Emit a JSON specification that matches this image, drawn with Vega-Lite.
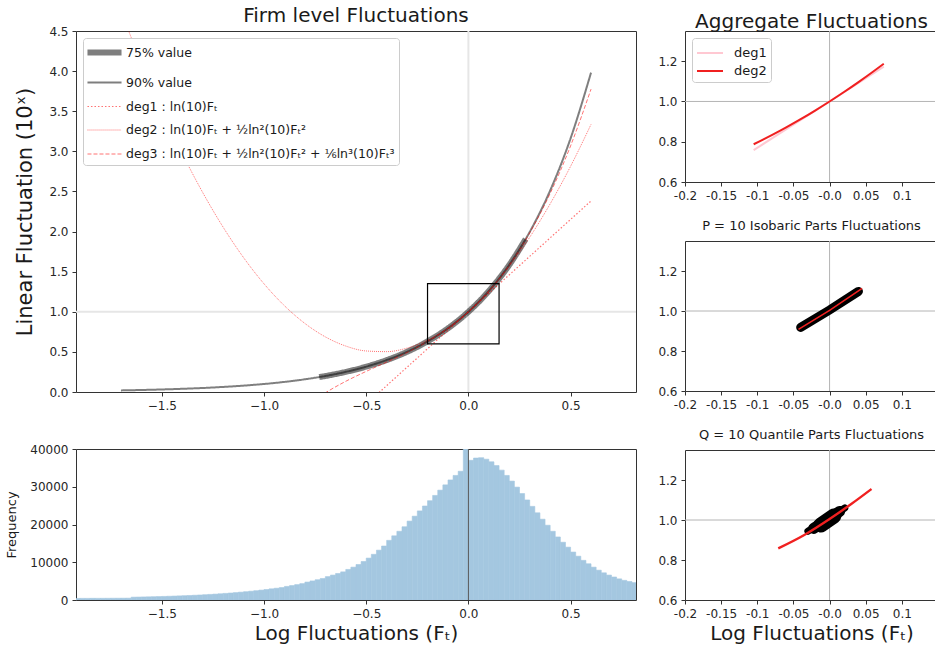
{
  "$schema": "https://vega.github.io/schema/vega-lite/v6.json",
  "padding": {"left": 5, "top": 5, "right": 0, "bottom": 5},
  "background": "white",
  "config": {
    "font": "DejaVu Sans",
    "view": {"stroke": "#333333", "strokeWidth": 1},
    "axis": {"domain": false, "grid": false, "ticks": true, "tickColor": "#333333", "tickSize": 4, "tickWidth": 1, "labelPadding": 4, "labelFontSize": 12, "labelColor": "#262626", "labelFont": "DejaVu Sans", "titleFont": "DejaVu Sans", "titleFontWeight": "normal", "titleColor": "#1a1a1a", "labelFlush": false, "labelOverlap": false},
    "title": {"font": "DejaVu Sans", "fontWeight": "normal", "color": "#1a1a1a"},
    "legend": {"labelFont": "DejaVu Sans", "labelColor": "#1a1a1a"}
  },
  "resolve": {
    "scale": {"color": "independent", "strokeDash": "independent", "strokeWidth": "independent", "opacity": "independent"},
    "legend": {"color": "independent", "strokeDash": "independent", "strokeWidth": "independent", "opacity": "independent"}
  },
  "spacing": 19,
  "hconcat": [
    {
      "spacing": 57,
      "bounds": "flush",
      "vconcat": [
        {
          "width": 560,
          "height": 361,
          "title": {"text": "Firm level Fluctuations", "fontSize": 20, "offset": -1},
          "layer": [
            {
              "data": {"values": [{}]},
              "mark": {"type": "rule", "color": "#e6e6e6", "strokeWidth": 2},
              "encoding": {"y": {"datum": 1, "type": "quantitative", "scale": {"domain": [0, 4.5], "nice": false, "zero": false}}}
            },
            {
              "data": {"values": [{}]},
              "mark": {"type": "rule", "color": "#e6e6e6", "strokeWidth": 2},
              "encoding": {"x": {"datum": 0, "type": "quantitative", "scale": {"domain": [-1.92, 0.82], "nice": false, "zero": false}}}
            },
            {
              "data": {"values": [
                {"s": "a", "x": -0.73, "y": 0.1862}, {"s": "a", "x": -0.7, "y": 0.1995}, {"s": "a", "x": -0.6, "y": 0.2512}, {"s": "a", "x": -0.5, "y": 0.3162}, {"s": "a", "x": -0.4, "y": 0.3981}, {"s": "a", "x": -0.3, "y": 0.5012}, {"s": "a", "x": -0.2, "y": 0.631}, {"s": "a", "x": -0.1, "y": 0.7943}, {"s": "a", "x": 0, "y": 1}, {"s": "a", "x": 0.1, "y": 1.2589}, {"s": "a", "x": 0.2, "y": 1.5849}, {"s": "a", "x": 0.28, "y": 1.9055},
                {"s": "b", "x": -1.7, "y": 0.02}, {"s": "b", "x": -1.6, "y": 0.0251}, {"s": "b", "x": -1.5, "y": 0.0316}, {"s": "b", "x": -1.4, "y": 0.0398}, {"s": "b", "x": -1.3, "y": 0.0501}, {"s": "b", "x": -1.2, "y": 0.0631}, {"s": "b", "x": -1.1, "y": 0.0794}, {"s": "b", "x": -1.0, "y": 0.1}, {"s": "b", "x": -0.9, "y": 0.1259}, {"s": "b", "x": -0.8, "y": 0.1585}, {"s": "b", "x": -0.7, "y": 0.1995}, {"s": "b", "x": -0.6, "y": 0.2512}, {"s": "b", "x": -0.5, "y": 0.3162}, {"s": "b", "x": -0.4, "y": 0.3981}, {"s": "b", "x": -0.3, "y": 0.5012}, {"s": "b", "x": -0.2, "y": 0.631}, {"s": "b", "x": -0.1, "y": 0.7943}, {"s": "b", "x": 0, "y": 1}, {"s": "b", "x": 0.1, "y": 1.2589}, {"s": "b", "x": 0.2, "y": 1.5849}, {"s": "b", "x": 0.3, "y": 1.9953}, {"s": "b", "x": 0.4, "y": 2.5119}, {"s": "b", "x": 0.5, "y": 3.1623}, {"s": "b", "x": 0.6, "y": 3.9811},
                {"s": "c", "x": -0.45, "y": -0.036}, {"s": "c", "x": 0.6, "y": 2.3816},
                {"s": "d", "x": -1.7, "y": 4.7469}, {"s": "d", "x": -1.6, "y": 4.1023}, {"s": "d", "x": -1.5, "y": 3.5108}, {"s": "d", "x": -1.4, "y": 2.9722}, {"s": "d", "x": -1.3, "y": 2.4867}, {"s": "d", "x": -1.2, "y": 2.0543}, {"s": "d", "x": -1.1, "y": 1.6748}, {"s": "d", "x": -1.0, "y": 1.3484}, {"s": "d", "x": -0.9, "y": 1.0749}, {"s": "d", "x": -0.8, "y": 0.8545}, {"s": "d", "x": -0.7, "y": 0.6872}, {"s": "d", "x": -0.6, "y": 0.5728}, {"s": "d", "x": -0.5, "y": 0.5115}, {"s": "d", "x": -0.4, "y": 0.5031}, {"s": "d", "x": -0.3, "y": 0.5478}, {"s": "d", "x": -0.2, "y": 0.6455}, {"s": "d", "x": -0.1, "y": 0.7963}, {"s": "d", "x": 0, "y": 1}, {"s": "d", "x": 0.1, "y": 1.2568}, {"s": "d", "x": 0.2, "y": 1.5666}, {"s": "d", "x": 0.3, "y": 1.9294}, {"s": "d", "x": 0.4, "y": 2.3452}, {"s": "d", "x": 0.5, "y": 2.814}, {"s": "d", "x": 0.6, "y": 3.3359},
                {"s": "e", "x": -0.8, "y": -0.1872}, {"s": "e", "x": -0.7, "y": -0.0107}, {"s": "e", "x": -0.6, "y": 0.1333}, {"s": "e", "x": -0.5, "y": 0.2571}, {"s": "e", "x": -0.4, "y": 0.3729}, {"s": "e", "x": -0.3, "y": 0.4929}, {"s": "e", "x": -0.2, "y": 0.6292}, {"s": "e", "x": -0.1, "y": 0.7942}, {"s": "e", "x": 0, "y": 1}, {"s": "e", "x": 0.1, "y": 1.2588}, {"s": "e", "x": 0.2, "y": 1.5828}, {"s": "e", "x": 0.3, "y": 1.9843}, {"s": "e", "x": 0.4, "y": 2.4754}, {"s": "e", "x": 0.5, "y": 3.0684}, {"s": "e", "x": 0.6, "y": 3.7754}
              ]},
              "mark": {"type": "line", "clip": true, "interpolate": "monotone"},
              "encoding": {
                "x": {"field": "x", "type": "quantitative", "scale": {"domain": [-1.92, 0.82], "nice": false, "zero": false}, "axis": {"values": [-1.5, -1, -0.5, 0, 0.5], "format": ".1f", "title": null}},
                "y": {"field": "y", "type": "quantitative", "scale": {"domain": [0, 4.5], "nice": false, "zero": false}, "axis": {"values": [0, 0.5, 1, 1.5, 2, 2.5, 3, 3.5, 4, 4.5], "format": ".1f", "title": "Linear Fluctuation (10ˣ)", "titleFontSize": 21, "titlePadding": 13}},
                "color": {"field": "s", "type": "nominal", "scale": {"domain": ["a", "b", "c", "d", "e"], "range": ["#000000", "#000000", "#ff0000", "#ff0000", "#ff0000"]},
                  "legend": {"orient": "top-left", "offset": 7, "title": null, "symbolType": "M-2.27,0H2.27", "symbolSize": 225, "symbolOffset": 7, "labelOffset": 11, "labelFontSize": 12.5, "labelLimit": 400, "rowPadding": 9, "padding": 4, "strokeColor": "#cccccc", "fillColor": "#ffffff", "cornerRadius": 3,
                    "labelExpr": "datum.value == 'a' ? '75% value' : datum.value == 'b' ? '90% value' : datum.value == 'c' ? 'deg1 : ln(10)Fₜ' : datum.value == 'd' ? 'deg2 : ln(10)Fₜ + ½ln²(10)Fₜ²' : 'deg3 : ln(10)Fₜ + ½ln²(10)Fₜ² + ⅙ln³(10)Fₜ³'"}},
                "strokeDash": {"field": "s", "type": "nominal", "scale": {"domain": ["a", "b", "c", "d", "e"], "range": [[1, 0], [1, 0], [1.5, 2], [1, 1], [4, 2]]}},
                "strokeWidth": {"field": "s", "type": "nominal", "scale": {"type": "ordinal", "domain": ["a", "b", "c", "d", "e"], "range": [6, 2, 1.2, 1, 1]}},
                "opacity": {"field": "s", "type": "nominal", "scale": {"type": "ordinal", "domain": ["a", "b", "c", "d", "e"], "range": [0.5, 0.5, 0.55, 0.55, 0.55]}}
              }
            },
            {
              "data": {"values": [{"x1": -0.2, "x2": 0.15, "y1": 0.6, "y2": 1.35}]},
              "mark": {"type": "rect", "filled": false, "color": "#000000", "strokeWidth": 1.2},
              "encoding": {
                "x": {"field": "x1", "type": "quantitative", "scale": {"domain": [-1.92, 0.82], "nice": false, "zero": false}},
                "x2": {"field": "x2"},
                "y": {"field": "y1", "type": "quantitative", "scale": {"domain": [0, 4.5], "nice": false, "zero": false}},
                "y2": {"field": "y2"}
              }
            }
          ]
        },
        {
          "width": 560,
          "height": 151,
          "layer": [
            {
              "data": {"values": [
                {"a": -1.925, "b": -1.9, "n": 420}, {"a": -1.9, "b": -1.875, "n": 430}, {"a": -1.875, "b": -1.85, "n": 430}, {"a": -1.85, "b": -1.825, "n": 440}, {"a": -1.825, "b": -1.8, "n": 440}, {"a": -1.8, "b": -1.775, "n": 450}, {"a": -1.775, "b": -1.75, "n": 455}, {"a": -1.75, "b": -1.725, "n": 460}, {"a": -1.725, "b": -1.7, "n": 470}, {"a": -1.7, "b": -1.675, "n": 480}, {"a": -1.675, "b": -1.65, "n": 490},
                {"a": -1.65, "b": -1.625, "n": 750}, {"a": -1.625, "b": -1.6, "n": 780}, {"a": -1.6, "b": -1.575, "n": 810}, {"a": -1.575, "b": -1.55, "n": 840}, {"a": -1.55, "b": -1.525, "n": 870}, {"a": -1.525, "b": -1.5, "n": 910}, {"a": -1.5, "b": -1.475, "n": 950}, {"a": -1.475, "b": -1.45, "n": 990}, {"a": -1.45, "b": -1.425, "n": 1040}, {"a": -1.425, "b": -1.4, "n": 1090},
                {"a": -1.4, "b": -1.375, "n": 1140}, {"a": -1.375, "b": -1.35, "n": 1200}, {"a": -1.35, "b": -1.325, "n": 1260}, {"a": -1.325, "b": -1.3, "n": 1330}, {"a": -1.3, "b": -1.275, "n": 1400}, {"a": -1.275, "b": -1.25, "n": 1480}, {"a": -1.25, "b": -1.225, "n": 1560}, {"a": -1.225, "b": -1.2, "n": 1650}, {"a": -1.2, "b": -1.175, "n": 1750}, {"a": -1.175, "b": -1.15, "n": 1850},
                {"a": -1.15, "b": -1.125, "n": 1960}, {"a": -1.125, "b": -1.1, "n": 2080}, {"a": -1.1, "b": -1.075, "n": 2200}, {"a": -1.075, "b": -1.05, "n": 2330}, {"a": -1.05, "b": -1.025, "n": 2470}, {"a": -1.025, "b": -1.0, "n": 2620}, {"a": -1.0, "b": -0.975, "n": 2780}, {"a": -0.975, "b": -0.95, "n": 2960}, {"a": -0.95, "b": -0.925, "n": 3120}, {"a": -0.925, "b": -0.9, "n": 3300},
                {"a": -0.9, "b": -0.875, "n": 3600}, {"a": -0.875, "b": -0.85, "n": 3830}, {"a": -0.85, "b": -0.825, "n": 4080}, {"a": -0.825, "b": -0.8, "n": 4340}, {"a": -0.8, "b": -0.775, "n": 4750}, {"a": -0.775, "b": -0.75, "n": 5050}, {"a": -0.75, "b": -0.725, "n": 5370}, {"a": -0.725, "b": -0.7, "n": 5700}, {"a": -0.7, "b": -0.675, "n": 6200}, {"a": -0.675, "b": -0.65, "n": 6600},
                {"a": -0.65, "b": -0.625, "n": 7020}, {"a": -0.625, "b": -0.6, "n": 7450}, {"a": -0.6, "b": -0.575, "n": 8100}, {"a": -0.575, "b": -0.55, "n": 8700}, {"a": -0.55, "b": -0.525, "n": 9400}, {"a": -0.525, "b": -0.5, "n": 10200}, {"a": -0.5, "b": -0.475, "n": 11100}, {"a": -0.475, "b": -0.45, "n": 12100}, {"a": -0.45, "b": -0.425, "n": 13200}, {"a": -0.425, "b": -0.4, "n": 14300},
                {"a": -0.4, "b": -0.375, "n": 15800}, {"a": -0.375, "b": -0.35, "n": 17000}, {"a": -0.35, "b": -0.325, "n": 18200}, {"a": -0.325, "b": -0.3, "n": 19400}, {"a": -0.3, "b": -0.275, "n": 20900}, {"a": -0.275, "b": -0.25, "n": 22200}, {"a": -0.25, "b": -0.225, "n": 23600}, {"a": -0.225, "b": -0.2, "n": 24900}, {"a": -0.2, "b": -0.175, "n": 26300}, {"a": -0.175, "b": -0.15, "n": 27700},
                {"a": -0.15, "b": -0.125, "n": 29100}, {"a": -0.125, "b": -0.1, "n": 30500}, {"a": -0.1, "b": -0.075, "n": 31800}, {"a": -0.075, "b": -0.05, "n": 33000}, {"a": -0.05, "b": -0.025, "n": 34100}, {"a": -0.025, "b": 0.0, "n": 45000}, {"a": 0.0, "b": 0.025, "n": 37000}, {"a": 0.025, "b": 0.05, "n": 37600}, {"a": 0.05, "b": 0.075, "n": 37700}, {"a": 0.075, "b": 0.1, "n": 37300},
                {"a": 0.1, "b": 0.125, "n": 36600}, {"a": 0.125, "b": 0.15, "n": 35600}, {"a": 0.15, "b": 0.175, "n": 34400}, {"a": 0.175, "b": 0.2, "n": 33000}, {"a": 0.2, "b": 0.225, "n": 31500}, {"a": 0.225, "b": 0.25, "n": 29900}, {"a": 0.25, "b": 0.275, "n": 28200}, {"a": 0.275, "b": 0.3, "n": 26500}, {"a": 0.3, "b": 0.325, "n": 24800}, {"a": 0.325, "b": 0.35, "n": 23100},
                {"a": 0.35, "b": 0.375, "n": 21400}, {"a": 0.375, "b": 0.4, "n": 19800}, {"a": 0.4, "b": 0.425, "n": 18200}, {"a": 0.425, "b": 0.45, "n": 16700}, {"a": 0.45, "b": 0.475, "n": 15300}, {"a": 0.475, "b": 0.5, "n": 14000}, {"a": 0.5, "b": 0.525, "n": 12700}, {"a": 0.525, "b": 0.55, "n": 11600}, {"a": 0.55, "b": 0.575, "n": 10500}, {"a": 0.575, "b": 0.6, "n": 9600},
                {"a": 0.6, "b": 0.625, "n": 8700}, {"a": 0.625, "b": 0.65, "n": 7900}, {"a": 0.65, "b": 0.675, "n": 7200}, {"a": 0.675, "b": 0.7, "n": 6600}, {"a": 0.7, "b": 0.725, "n": 6100}, {"a": 0.725, "b": 0.75, "n": 5600}, {"a": 0.75, "b": 0.775, "n": 5200}, {"a": 0.775, "b": 0.8, "n": 4900}, {"a": 0.8, "b": 0.825, "n": 4600}
              ]},
              "mark": {"type": "rect", "color": "#a4c7e0", "stroke": "#a4c7e0", "strokeWidth": 0.6, "clip": true},
              "encoding": {
                "x": {"field": "a", "type": "quantitative", "scale": {"domain": [-1.92, 0.82], "nice": false, "zero": false}, "axis": {"values": [-1.5, -1, -0.5, 0, 0.5], "format": ".1f", "title": "Log Fluctuations (Fₜ)", "titleFontSize": 20, "titlePadding": 4}},
                "x2": {"field": "b"},
                "y": {"field": "n", "type": "quantitative", "scale": {"domain": [0, 40000], "nice": false, "zero": false}, "axis": {"values": [0, 10000, 20000, 30000, 40000], "format": "d", "title": "Frequency", "titleFontSize": 13, "titlePadding": 11}},
                "y2": {"datum": 0}
              }
            },
            {
              "data": {"values": [{}]},
              "mark": {"type": "rule", "color": "#5a5a5a", "strokeWidth": 1},
              "encoding": {"x": {"datum": 0, "type": "quantitative", "scale": {"domain": [-1.92, 0.82], "nice": false, "zero": false}}}
            }
          ]
        }
      ]
    },
    {
      "spacing": 59,
      "bounds": "flush",
      "vconcat": [
        {
          "width": 253,
          "height": 151,
          "title": {"text": "Aggregate Fluctuations", "fontSize": 20, "offset": -1},
          "layer": [
            {"data": {"values": [{}]}, "mark": {"type": "rule", "color": "#b4b4b4", "strokeWidth": 1}, "encoding": {"y": {"datum": 1, "type": "quantitative", "scale": {"domain": [0.6, 1.35], "nice": false, "zero": false}}}},
            {"data": {"values": [{}]}, "mark": {"type": "rule", "color": "#b4b4b4", "strokeWidth": 1}, "encoding": {"x": {"datum": 0, "type": "quantitative", "scale": {"domain": [-0.2, 0.15], "nice": false, "zero": false}}}},
            {
              "data": {"values": [
                {"s": "deg1", "x": -0.105, "y": 0.7582}, {"s": "deg1", "x": 0.075, "y": 1.1727},
                {"s": "deg2", "x": -0.105, "y": 0.7875}, {"s": "deg2", "x": -0.08, "y": 0.8328}, {"s": "deg2", "x": -0.06, "y": 0.8714}, {"s": "deg2", "x": -0.04, "y": 0.9121}, {"s": "deg2", "x": -0.02, "y": 0.955}, {"s": "deg2", "x": 0, "y": 1}, {"s": "deg2", "x": 0.02, "y": 1.0471}, {"s": "deg2", "x": 0.04, "y": 1.0963}, {"s": "deg2", "x": 0.06, "y": 1.1477}, {"s": "deg2", "x": 0.075, "y": 1.1876}
              ]},
              "mark": {"type": "line", "strokeWidth": 2, "interpolate": "monotone"},
              "encoding": {
                "x": {"field": "x", "type": "quantitative", "scale": {"domain": [-0.2, 0.15], "nice": false, "zero": false}, "axis": {"values": [-0.2, -0.15, -0.1, -0.05, 0, 0.05, 0.1], "labelExpr": "abs(datum.value) < 1e-9 ? '-0.0' : (datum.value < 0 ? '-' : '') + format(abs(datum.value), '~g')", "title": null}},
                "y": {"field": "y", "type": "quantitative", "scale": {"domain": [0.6, 1.35], "nice": false, "zero": false}, "axis": {"values": [0.6, 0.8, 1.0, 1.2], "format": ".1f", "title": null}},
                "color": {"field": "s", "type": "nominal", "scale": {"domain": ["deg1", "deg2"], "range": ["#ffc8d2", "#f02020"]},
                  "legend": {"orient": "top-left", "offset": 7, "title": null, "symbolType": "M-1.3,0H1.3", "symbolSize": 400, "symbolOffset": 3, "labelOffset": 13, "symbolStrokeWidth": 2, "labelFontSize": 13, "rowPadding": 0, "padding": 4, "strokeColor": "#cccccc", "fillColor": "#ffffff", "cornerRadius": 3}}
              }
            }
          ]
        },
        {
          "width": 253,
          "height": 150,
          "title": {"text": "P = 10 Isobaric Parts Fluctuations", "fontSize": 13, "offset": 8},
          "layer": [
            {"data": {"values": [{}]}, "mark": {"type": "rule", "color": "#b4b4b4", "strokeWidth": 1}, "encoding": {"y": {"datum": 1, "type": "quantitative", "scale": {"domain": [0.6, 1.35], "nice": false, "zero": false}}}},
            {"data": {"values": [{}]}, "mark": {"type": "rule", "color": "#b4b4b4", "strokeWidth": 1}, "encoding": {"x": {"datum": 0, "type": "quantitative", "scale": {"domain": [-0.2, 0.15], "nice": false, "zero": false}}}},
            {
              "data": {"values": [{"x": -0.04, "y": 0.918}, {"x": 0.0, "y": 1.005}, {"x": 0.04, "y": 1.098}]},
              "mark": {"type": "line", "color": "#000000", "strokeWidth": 9, "strokeCap": "round"},
              "encoding": {
                "x": {"field": "x", "type": "quantitative", "scale": {"domain": [-0.2, 0.15], "nice": false, "zero": false}, "axis": {"values": [-0.2, -0.15, -0.1, -0.05, 0, 0.05, 0.1], "labelExpr": "abs(datum.value) < 1e-9 ? '-0.0' : (datum.value < 0 ? '-' : '') + format(abs(datum.value), '~g')", "title": null}},
                "y": {"field": "y", "type": "quantitative", "scale": {"domain": [0.6, 1.35], "nice": false, "zero": false}, "axis": {"values": [0.6, 0.8, 1.0, 1.2], "format": ".1f", "title": null}}
              }
            },
            {
              "data": {"values": [{"x": -0.043, "y": 0.908}, {"x": 0.0, "y": 1.003}, {"x": 0.045, "y": 1.113}]},
              "mark": {"type": "line", "color": "#f02020", "strokeWidth": 1.6},
              "encoding": {
                "x": {"field": "x", "type": "quantitative", "scale": {"domain": [-0.2, 0.15], "nice": false, "zero": false}},
                "y": {"field": "y", "type": "quantitative", "scale": {"domain": [0.6, 1.35], "nice": false, "zero": false}}
              }
            }
          ]
        },
        {
          "width": 253,
          "height": 150,
          "title": {"text": "Q = 10 Quantile Parts Fluctuations", "fontSize": 13, "offset": 8},
          "layer": [
            {"data": {"values": [{}]}, "mark": {"type": "rule", "color": "#b4b4b4", "strokeWidth": 1}, "encoding": {"y": {"datum": 1, "type": "quantitative", "scale": {"domain": [0.6, 1.35], "nice": false, "zero": false}}}},
            {"data": {"values": [{}]}, "mark": {"type": "rule", "color": "#b4b4b4", "strokeWidth": 1}, "encoding": {"x": {"datum": 0, "type": "quantitative", "scale": {"domain": [-0.2, 0.15], "nice": false, "zero": false}}}},
            {
              "data": {"values": [{"x": -0.03, "y": 0.944}, {"x": 0.021, "y": 1.06}]},
              "mark": {"type": "line", "color": "#000000", "strokeWidth": 7, "strokeCap": "round"},
              "encoding": {
                "x": {"field": "x", "type": "quantitative", "scale": {"domain": [-0.2, 0.15], "nice": false, "zero": false}, "axis": {"values": [-0.2, -0.15, -0.1, -0.05, 0, 0.05, 0.1], "labelExpr": "abs(datum.value) < 1e-9 ? '-0.0' : (datum.value < 0 ? '-' : '') + format(abs(datum.value), '~g')", "title": "Log Fluctuations (Fₜ)", "titleFontSize": 20, "titlePadding": 4}},
                "y": {"field": "y", "type": "quantitative", "scale": {"domain": [0.6, 1.35], "nice": false, "zero": false}, "axis": {"values": [0.6, 0.8, 1.0, 1.2], "format": ".1f", "title": null}}
              }
            },
            {
              "data": {"values": [{"x": -0.022, "y": 0.958}, {"x": 0.014, "y": 1.043}]},
              "mark": {"type": "line", "color": "#000000", "strokeWidth": 11, "strokeCap": "round"},
              "encoding": {
                "x": {"field": "x", "type": "quantitative", "scale": {"domain": [-0.2, 0.15], "nice": false, "zero": false}},
                "y": {"field": "y", "type": "quantitative", "scale": {"domain": [0.6, 1.35], "nice": false, "zero": false}}
              }
            },
            {
              "data": {"values": [{"x": -0.012, "y": 0.975}, {"x": 0.006, "y": 1.02}]},
              "mark": {"type": "line", "color": "#000000", "strokeWidth": 15, "strokeCap": "round"},
              "encoding": {
                "x": {"field": "x", "type": "quantitative", "scale": {"domain": [-0.2, 0.15], "nice": false, "zero": false}},
                "y": {"field": "y", "type": "quantitative", "scale": {"domain": [0.6, 1.35], "nice": false, "zero": false}}
              }
            },
            {
              "data": {"values": [{"x": -0.071, "y": 0.858}, {"x": -0.035, "y": 0.925}, {"x": 0.0, "y": 1.005}, {"x": 0.03, "y": 1.08}, {"x": 0.058, "y": 1.155}]},
              "mark": {"type": "line", "color": "#f02020", "strokeWidth": 2.4, "interpolate": "monotone"},
              "encoding": {
                "x": {"field": "x", "type": "quantitative", "scale": {"domain": [-0.2, 0.15], "nice": false, "zero": false}},
                "y": {"field": "y", "type": "quantitative", "scale": {"domain": [0.6, 1.35], "nice": false, "zero": false}}
              }
            }
          ]
        }
      ]
    }
  ]
}
